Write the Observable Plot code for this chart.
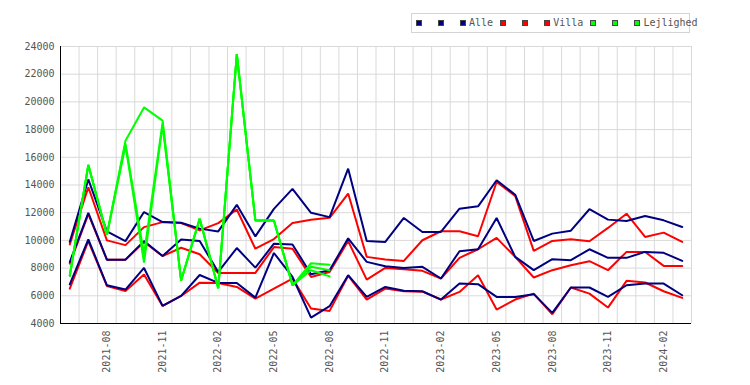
<!DOCTYPE html>
<html>
<head>
<meta charset="utf-8">
<script src="https://cdn.jsdelivr.net/npm/d3@7"></script>
<script src="https://cdn.jsdelivr.net/npm/@observablehq/plot@0.6"></script>
<style>
  body { margin: 0; background: #fff; font-family: "DejaVu Sans Mono", monospace; }
  #legend { position: relative; height: 40px; width: 750px; }
  #legend .box { position: absolute; left: 411px; top: 13px; width: 279px; height: 20px; border: 1px solid #d4d4d4;
    box-sizing: border-box; display: flex; align-items: center; padding-left: 4px; white-space: nowrap; }
  #legend .item { display: flex; align-items: center; margin-right: 7px; }
  #legend .sw { width: 4px; height: 4px; border: 1px solid #444; margin-right: 3px; }
  #legend .lab { font-size: 10px; color: #555; white-space: pre; line-height: 10px; }
  #chart svg { display: block; }
</style>
</head>
<body>
<div id="legend"></div>
<div id="chart"></div>
<script>
const monthLabels = ["2021-06","2021-07","2021-08","2021-09","2021-10","2021-11","2021-12",
  "2022-01","2022-02","2022-03","2022-04","2022-05","2022-06","2022-07","2022-08","2022-09","2022-10","2022-11","2022-12",
  "2023-01","2023-02","2023-03","2023-04","2023-05","2023-06","2023-07","2023-08","2023-09","2023-10","2023-11","2023-12",
  "2024-01","2024-02","2024-03"];
const xTickLabels = ["2021-08","2021-11","2022-02","2022-05","2022-08","2022-11","2023-02","2023-05","2023-08","2023-11","2024-02"];

const alleHigh = [9900,14400,10650,9950,12050,11320,11270,10850,10650,12570,10290,12280,13720,11990,11680,15180,9960,9890,11620,10610,10610,12290,12460,14340,13300,9960,10490,10700,12250,11500,11400,11760,11450,10970];
const alleMid  = [8440,11990,8610,8610,9950,8870,10070,9950,7720,9450,8030,9760,9710,7550,7840,10150,8450,8130,8010,8090,7250,9220,9360,11620,8810,7850,8640,8570,9360,8740,8740,9170,9100,8520];
const alleLow  = [6830,10070,6760,6450,8010,5270,5990,7500,6930,6930,5870,9090,7360,4430,5250,7490,5920,6640,6360,6330,5730,6880,6840,5920,5920,6120,4770,6600,6600,5920,6760,6880,6880,6040];

const villaHigh = [9710,13840,10000,9660,10960,11320,11250,10720,11250,12230,9400,10100,11250,11490,11630,13380,8810,8620,8520,10010,10660,10660,10300,14220,13210,9240,9960,10080,9940,10900,11930,10250,10560,9890];
const villaMid  = [8320,11900,8610,8610,9880,8870,9470,9000,7650,7650,7650,9520,9400,7360,7720,9950,7170,8010,7920,7800,7250,8740,9360,10180,8810,7320,7850,8210,8500,7850,9170,9170,8160,8160];
const villaLow  = [6520,9950,6710,6350,7530,5270,5990,6950,6930,6640,5800,6520,7240,5080,4910,7450,5730,6520,6330,6300,5730,6280,7490,5010,5730,6160,4670,6600,6160,5150,7080,6960,6330,5850];

const lejHigh = [7450,15450,10400,17200,19600,18650,7100,11560,6550,23450,11440,11440,6760,8350,8250];
const lejMid  = [7450,15450,10400,17000,9000,18500,7100,11560,6550,23450,11440,11440,6760,8100,7850];
const lejLow  = [7450,15450,10400,16850,8400,18300,7100,11560,6550,23450,11440,11440,6760,7850,7400];

const seriesNames  = ["Alle", "Villa", "Lejlighed"];
const seriesColors = ["#000080", "#ff0000", "#00ff00"];
const seriesLines  = [[alleHigh, alleMid, alleLow], [villaHigh, villaMid, villaLow], [lejHigh, lejMid, lejLow]];
const yDomain = [4000, 24000];
const yStep = 2000;

// Legend: three swatches per series, the name after the last one
const legend = document.createElement("div");
legend.className = "box";
seriesNames.forEach((name, s) => {
  seriesLines[s].forEach((_, k) => {
    const item = document.createElement("div");
    item.className = "item";
    const sw = document.createElement("span");
    sw.className = "sw";
    sw.style.background = seriesColors[s];
    const lab = document.createElement("span");
    lab.className = "lab";
    lab.textContent = k === seriesLines[s].length - 1 ? name : " ";
    item.append(sw, lab);
    legend.append(item);
  });
});
document.getElementById("legend").append(legend);

// Long-format rows
const rows = [];
seriesLines.forEach((lines, s) => {
  lines.forEach((vals, k) => {
    vals.forEach((v, i) => rows.push({i, v, key: seriesNames[s] + k, s}));
  });
});
const drawOrder = [1, 0, 2];
const xTicks = xTickLabels.map(l => monthLabels.indexOf(l));
const xDomain = [-0.5, monthLabels.length - 0.5];

const chart = Plot.plot({
  width: 750,
  height: 345,
  marginLeft: 60,
  marginRight: 59,
  marginTop: 6,
  marginBottom: 62,
  x: {domain: xDomain, axis: null, label: null},
  y: {domain: yDomain, axis: null, label: null},
  style: {fontFamily: "DejaVu Sans Mono, monospace", fontSize: "10px", color: "#555", background: "#fff"},
  marks: [
    Plot.gridY({interval: yStep, stroke: "#d9d9d9", strokeOpacity: 1}),
    Plot.ruleX(monthLabels, {x: (d, i) => i + 0.5, stroke: "#d9d9d9", strokeOpacity: 1}),
    ...drawOrder.map(s => Plot.line(rows.filter(r => r.s === s), {
      x: "i", y: "v", z: "key", stroke: seriesColors[s], strokeWidth: 2, strokeLinejoin: "miter"
    })),
    Plot.ruleX([xDomain[0]], {stroke: "#000", strokeWidth: 1}),
    Plot.ruleY([yDomain[0]], {stroke: "#000", strokeWidth: 1}),
    Plot.axisY({interval: yStep, tickSize: 0, tickPadding: 6, fill: "#555", fontSize: 10, label: null, tickFormat: d => String(d)}),
    Plot.axisX({ticks: xTicks, tickFormat: i => monthLabels[i], tickRotate: -90, tickSize: 0, tickPadding: 7, fill: "#555", fontSize: 10, label: null})
  ]
});
document.getElementById("chart").append(chart);
</script>
</body>
</html>
